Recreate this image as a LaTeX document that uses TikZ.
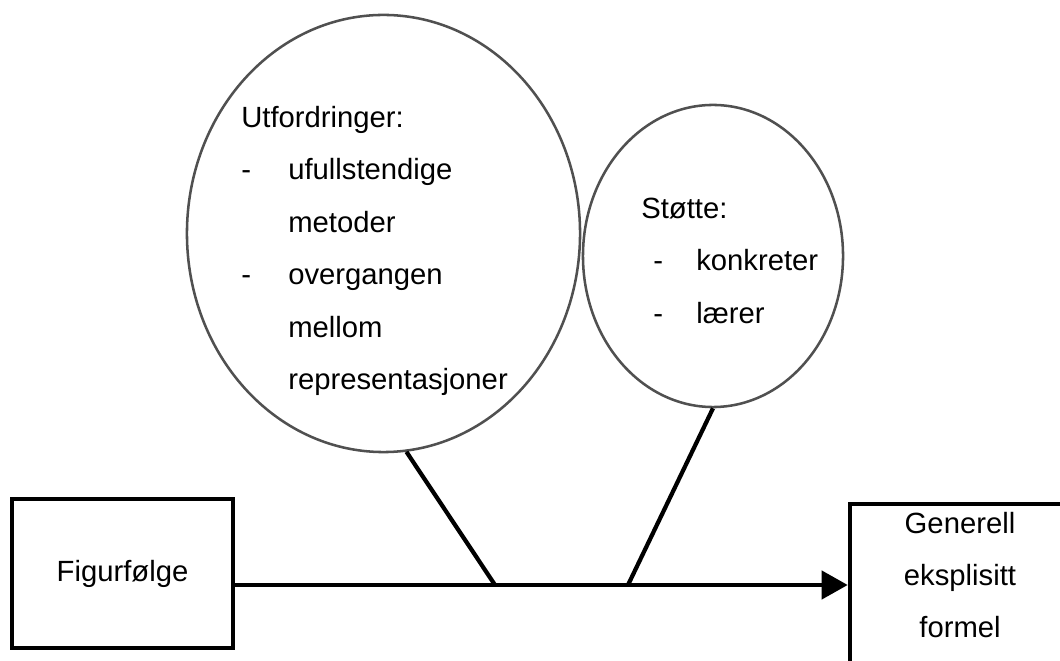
\documentclass[tikz,border=0pt]{standalone}
\usepackage{fontspec}
\setmainfont{Liberation Sans}
\usepackage{xcolor}
\usetikzlibrary{calc,arrows.meta,positioning,shapes.geometric}
\definecolor{rim}{RGB}{80,80,80}

\begin{document}
\begin{tikzpicture}[x=0.025cm,y=-0.025cm,>={Triangle[length=6.5mm,width=7mm]},
    bubble/.style={ellipse,draw=rim,line width=1.8pt,inner sep=0pt},
    box/.style={rectangle,draw=black,line width=3.2pt,inner sep=0pt},
    txt/.style={inner sep=0pt,font=\fontsize{20.8}{37.3}\selectfont},
    e/.style={draw=black,line width=3pt}]
  \useasboundingbox (0,0) rectangle (1060,661);
  \clip (0,0) rectangle (1060,661);
  % TOP: challenges and support
  \node[bubble,minimum width=9.825cm,minimum height=10.925cm] (utf) at (383.5,233.5) {};
  \node[bubble,minimum width=6.5cm,minimum height=7.55cm] (stotte) at (713,256) {};
  \node[txt,anchor=west] (utftxt) at (241,248) {\begin{tabular}{@{}p{1.175cm}@{}l@{}}
      \multicolumn{2}{@{}l@{}}{Utfordringer:}\\
      - & ufullstendige\\
        & metoder\\
      - & overgangen\\
        & mellom\\
        & representasjoner
    \end{tabular}};
  \node[txt,anchor=west] (stottxt) at (641,260.5) {\begin{tabular}{@{\hspace{0.3cm}}p{1.075cm}@{}l@{}}
      \multicolumn{2}{@{}l@{}}{Støtte:}\\
      - & konkreter\\
      - & lærer
    \end{tabular}};
  % BOTTOM: from figure sequence to formula
  \node[txt,box,minimum width=5.525cm,minimum height=3.725cm] (fig) at (122.5,573.5) {Figurfølge};
  \node[box,minimum width=5.625cm,minimum height=4.05cm] (formel) at (962.5,585) {};
  \node[txt,align=center] (formeltxt) at (960,575) {Generell\\eksplisitt\\formel};
  \draw[e,->] (fig.east |- formel.west) -- (formel.west);
  \coordinate (jU) at (495,585);
  \coordinate (jS) at (628,585);
  \draw[e] (utf.-84) -- (jU);
  \draw[e] (stotte.south) -- (jS);
\end{tikzpicture}
\end{document}
